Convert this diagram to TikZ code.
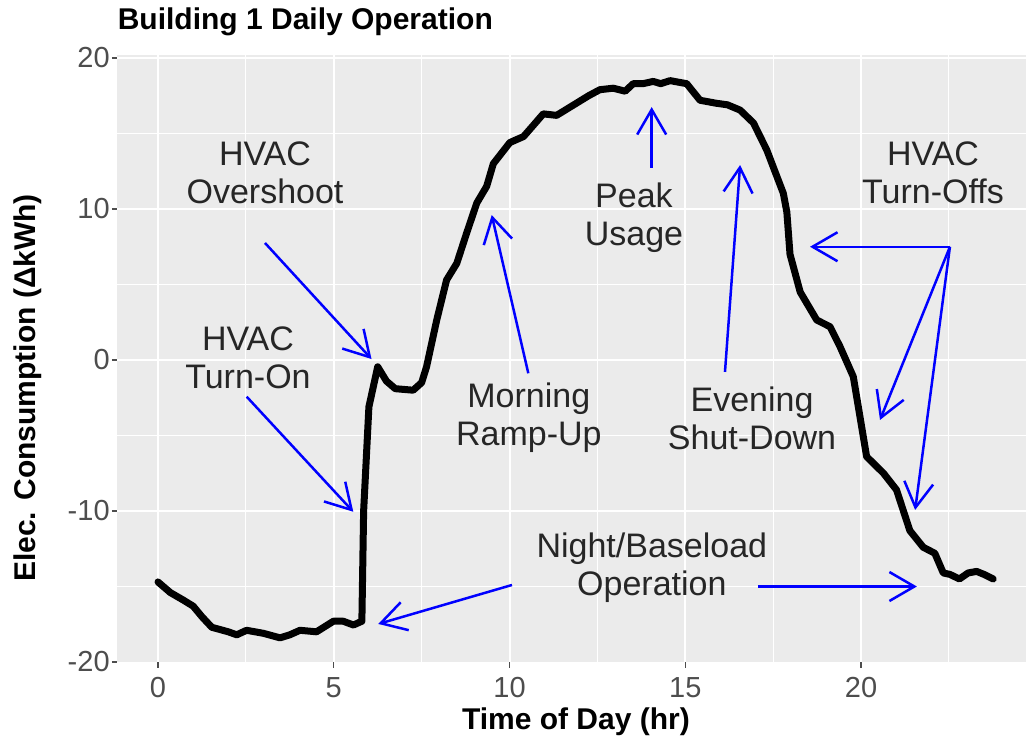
\documentclass[tikz,border=0pt]{standalone}
\usepackage{fontspec}
\setmainfont{Liberation Sans}
\usetikzlibrary{arrows.meta}

\definecolor{panelgray}{RGB}{235,235,235}
\definecolor{ticktext}{RGB}{77,77,77}
\definecolor{notetext}{RGB}{38,38,38}

\begin{document}
\begin{tikzpicture}[x=35.15pt,y=15.1pt,
        major/.style={white,line width=2pt},
        minor/.style={white,line width=1pt},
        tick/.style={ticktext,line width=1.2pt},
        ticklabel/.style={ticktext,font=\fontsize{29}{32}\selectfont,inner sep=0pt},
        axistitle/.style={font=\bfseries\fontsize{30}{34}\selectfont,inner sep=0pt},
        note/.style={notetext,align=center,font=\fontsize{34}{38}\selectfont,inner sep=0pt},
        callout/.style={draw=blue,line width=2.5pt,
          -{Straight Barb[length=25pt 0,width=29pt 0,line width=2.5pt]}},
        load/.style={black,line width=7pt,line join=round,line cap=round}]

  \useasboundingbox (-4.495,-25.1) rectangle (24.694,23.841);

  % panel and grid
  \fill[panelgray] (-1.166,-20) rectangle (24.694,20.2);
  \foreach \v in {-15,-5,5,15}
    \draw[minor] (-1.166,\v) -- (24.694,\v);
  \foreach \h in {2.5,7.5,12.5,17.5,22.5}
    \draw[minor] (\h,-20) -- (\h,20.2);
  \foreach \v in {-10,0,10,20}
    \draw[major] (-1.166,\v) -- (24.694,\v);
  \foreach \h in {0,5,10,15,20}
    \draw[major] (\h,-20) -- (\h,20.2);

  % axes ticks and labels
  \foreach \v in {-20,-10,0,10,20} {
    \draw[tick] (-1.309,\v) -- (-1.166,\v);
    \node[ticklabel,anchor=east] (ytick\v) at (-1.37,\v) {\v};
  }
  \foreach \h in {0,5,10,15,20} {
    \draw[tick] (\h,-20) -- (\h,-20.4);
    \node[ticklabel] (xtick\h) at (\h,-21.7) {\h};
  }

  \node[axistitle,anchor=west] (title) at (-1.15,22.38) {Building 1 Daily Operation};
  \node[axistitle] (xtitle) at (11.89,-23.95) {Time of Day (hr)};
  \node[axistitle,rotate=90] (ytitle) at (-3.70,-1.85) {Elec. Consumption (ΔkWh)};

  % daily load curve
  \draw[load] plot coordinates {
    (0,-14.7) (0.35,-15.4) (0.72,-15.9) (1.0,-16.3) (1.25,-17.0) (1.53,-17.7)
    (2.0,-18.0) (2.24,-18.2) (2.52,-17.9) (3.0,-18.1) (3.47,-18.4) (3.75,-18.2)
    (4.04,-17.9) (4.51,-18.0) (4.99,-17.3) (5.27,-17.3) (5.56,-17.55) (5.80,-17.3)
    (5.85,-10) (6.0,-3.1) (6.25,-0.45) (6.5,-1.4) (6.75,-1.9) (7.26,-2.0)
    (7.5,-1.5) (7.64,-0.45) (7.93,2.65) (8.21,5.3) (8.5,6.4) (8.78,8.4)
    (9.07,10.4) (9.35,11.5) (9.54,13.0) (10.01,14.4) (10.4,14.8) (10.7,15.6)
    (10.96,16.3) (11.34,16.2) (11.9,17.0) (12.25,17.5) (12.57,17.9) (12.95,18.0)
    (13.29,17.8) (13.52,18.3) (13.8,18.3) (14.09,18.45) (14.3,18.3) (14.57,18.5)
    (15.04,18.3) (15.42,17.2) (15.89,17.0) (16.2,16.9) (16.56,16.55) (16.94,15.7)
    (17.32,13.9) (17.79,11.04) (17.89,9.8) (17.98,7.0) (18.27,4.5) (18.74,2.65)
    (19.12,2.2) (19.4,0.9) (19.78,-1.1) (19.97,-3.75) (20.16,-6.4) (20.64,-7.5)
    (21.01,-8.6) (21.39,-11.3) (21.77,-12.4) (22.1,-12.8) (22.34,-14.1) (22.53,-14.2)
    (22.8,-14.5) (23.05,-14.1) (23.29,-14.0) (23.5,-14.2) (23.76,-14.5)};

  % annotations
  \node[note] (overshoot) at (3.044,12.38) {HVAC\\Overshoot};
  \node[note] (turnon) at (2.56,0.13) {HVAC\\Turn-On};
  \node[note] (rampup) at (10.55,-3.84) {Morning\\Ramp-Up};
  \node[note] (peak) at (13.54,9.40) {Peak\\Usage};
  \node[note] (shutdown) at (16.90,-3.84) {Evening\\Shut-Down};
  \node[note] (turnoffs) at (22.05,12.38) {HVAC\\Turn-Offs};
  \node[note] (night) at (14.05,-13.77) {Night/Baseload\\Operation};

  \coordinate (overshootA) at (3.044,7.75);
  \coordinate (overshootB) at (6.074,0.066);
  \coordinate (turnonA) at (2.523,-2.43);
  \coordinate (turnonB) at (5.556,-10.05);
  \coordinate (nightA) at (10.07,-14.9);
  \coordinate (nightB) at (6.267,-17.48);
  \coordinate (nightC) at (17.07,-15.0);
  \coordinate (nightD) at (21.59,-15.0);
  \coordinate (rampupA) at (10.535,-0.88);
  \coordinate (rampupB) at (9.494,9.60);
  \coordinate (peakA) at (14.045,12.72);
  \coordinate (peakB) at (14.045,16.75);
  \coordinate (shutdownA) at (16.13,-0.79);
  \coordinate (shutdownB) at (16.56,12.91);
  \coordinate (turnoffsA) at (22.53,7.5);
  \coordinate (turnoffsB) at (18.55,7.5);
  \coordinate (turnoffsC) at (20.54,-3.97);
  \coordinate (turnoffsD) at (21.54,-9.93);

  \path (overshootA) edge[callout] (overshootB)
        (turnonA) edge[callout] (turnonB)
        (nightA) edge[callout] (nightB)
        (nightC) edge[callout] (nightD)
        (rampupA) edge[callout] (rampupB)
        (peakA) edge[callout] (peakB)
        (shutdownA) edge[callout] (shutdownB)
        (turnoffsA) edge[callout] (turnoffsB)
        (turnoffsA) edge[callout] (turnoffsC)
        (turnoffsA) edge[callout] (turnoffsD);

\end{tikzpicture}
\end{document}
